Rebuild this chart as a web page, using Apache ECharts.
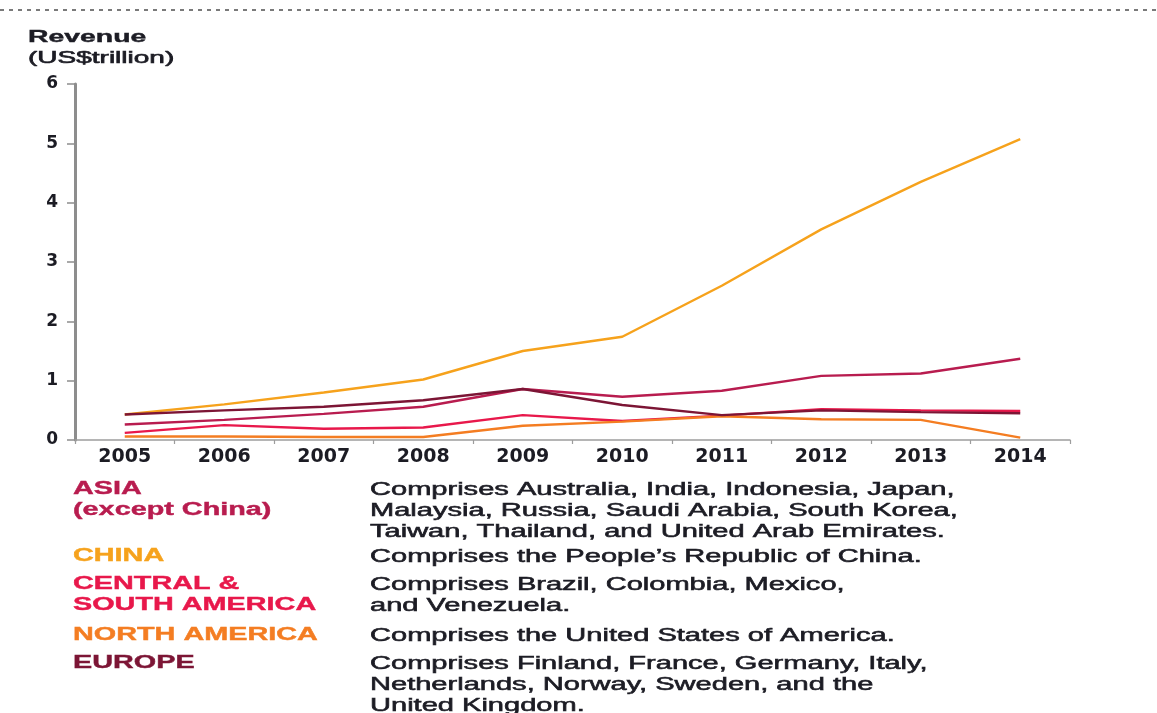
<!DOCTYPE html>
<html>
<head>
<meta charset="utf-8">
<title>Revenue by region, 2005–2014</title>
<script src="https://cdn.jsdelivr.net/npm/echarts@6/dist/echarts.min.js"></script>
<style>
  html, body { margin: 0; padding: 0; background: #ffffff; }
  #chart { width: 1157px; height: 713px; }
</style>
</head>
<body>
<div id="chart"></div>
<script>
// Years on the category axis
const years = ['2005', '2006', '2007', '2008', '2009', '2010', '2011', '2012', '2013', '2014'];

// Revenue, US$ trillion
const asia = [0.26, 0.34, 0.44, 0.56, 0.86, 0.73, 0.83, 1.08, 1.12, 1.37];
const china = [0.43, 0.60, 0.80, 1.02, 1.50, 1.74, 2.60, 3.55, 4.35, 5.07];
const centralSouthAmerica = [0.12, 0.25, 0.19, 0.21, 0.42, 0.32, 0.41, 0.52, 0.50, 0.49];
const northAmerica = [0.06, 0.06, 0.05, 0.05, 0.24, 0.31, 0.40, 0.35, 0.34, 0.04];
const europe = [0.43, 0.50, 0.56, 0.67, 0.86, 0.59, 0.42, 0.50, 0.47, 0.45];

// Region names and what each one covers
const regionNames = ['ASIA\n(except China)', 'CHINA', 'CENTRAL &\nSOUTH AMERICA', 'NORTH AMERICA', 'EUROPE'];
const regionNotes = [
  'Comprises Australia, India, Indonesia, Japan,\nMalaysia, Russia, Saudi Arabia, South Korea,\nTaiwan, Thailand, and United Arab Emirates.',
  'Comprises the People\u2019s Republic of China.',
  'Comprises Brazil, Colombia, Mexico,\nand Venezuela.',
  'Comprises the United States of America.',
  'Comprises Finland, France, Germany, Italy,\nNetherlands, Norway, Sweden, and the\nUnited Kingdom.'
];
const regionSeries = [asia, china, centralSouthAmerica, northAmerica, europe];

// Styling
const regionColors = ['#b81c4f', '#f6a21c', '#e8184b', '#f47d22', '#7c1535'];
const noteRowTops = [479, 546, 574, 625, 653];
const axisGrey = '#8d8d8d';
const ink = '#1c1c24';

const chart = echarts.init(document.getElementById('chart'), null, { renderer: 'canvas' });

// Key beneath the plot: coloured region name, then its description
const keyElements = [];
regionNames.forEach((name, i) => {
  keyElements.push({
    type: 'text',
    x: 73, y: noteRowTops[i],
    scaleX: 1.6,
    style: {
      text: name, fill: regionColors[i], stroke: regionColors[i], lineWidth: 0.4,
      fontFamily: 'Liberation Sans, Arial, sans-serif', fontWeight: 'bold', fontSize: 18,
      lineHeight: 21, verticalAlign: 'top', align: 'left'
    }
  });
  keyElements.push({
    type: 'text',
    x: 370, y: noteRowTops[i] + 1,
    scaleX: 1.66,
    style: {
      text: regionNotes[i], fill: ink, stroke: ink, lineWidth: 0.55,
      fontFamily: 'Liberation Sans, Arial, sans-serif', fontWeight: 'normal', fontSize: 17.5,
      lineHeight: 20.7, verticalAlign: 'top', align: 'left'
    }
  });
});

const option = {
  animation: false,
  backgroundColor: '#ffffff',
  grid: { left: 75, right: 87, top: 84, bottom: 273, containLabel: false },
  xAxis: {
    type: 'category',
    data: years,
    boundaryGap: true,
    axisLine: { show: true, lineStyle: { color: '#9d9d9d', width: 1.5 } },
    axisTick: { show: true, alignWithLabel: false, length: 4, lineStyle: { color: '#9d9d9d', width: 1.2 } },
    axisLabel: {
      interval: 0,
      margin: 8,
      color: ink,
      fontFamily: 'DejaVu Sans', fontWeight: 'bold', fontSize: 19
    },
    splitLine: { show: false }
  },
  yAxis: {
    type: 'value',
    min: 0, max: 6, interval: 1,
    axisLine: { show: true, lineStyle: { color: axisGrey, width: 3 } },
    axisTick: { show: true, length: 8, lineStyle: { color: axisGrey, width: 1.5 } },
    axisLabel: {
      margin: 17, color: ink,
      fontFamily: 'DejaVu Sans', fontWeight: 'bold', fontSize: 17
    },
    splitLine: { show: false }
  },
  series: regionNames.map((name, i) => ({
    name: name.replace('\n', ' '),
    type: 'line',
    data: regionSeries[i],
    symbol: 'none',
    smooth: false,
    lineStyle: { color: regionColors[i], width: 2.4 },
    itemStyle: { color: regionColors[i] },
    z: 2 + i
  })),
  graphic: [
    {
      type: 'line',
      shape: { x1: 0, y1: 10, x2: 1157, y2: 10 },
      style: { stroke: '#7a7a7a', lineWidth: 2, lineDash: [4, 5] }
    },
    {
      type: 'text', x: 28, y: 37, scaleX: 1.72,
      style: {
        text: 'Revenue', fill: ink, stroke: ink, lineWidth: 0.4,
        fontFamily: 'Liberation Sans, Arial, sans-serif', fontWeight: 'bold', fontSize: 16.5,
        verticalAlign: 'middle', align: 'left'
      }
    },
    {
      type: 'text', x: 28, y: 59, scaleX: 1.75,
      style: {
        text: '(US$trillion)', fill: ink, stroke: ink, lineWidth: 0.6,
        fontFamily: 'Liberation Sans, Arial, sans-serif', fontWeight: 'normal', fontSize: 16,
        verticalAlign: 'middle', align: 'left'
      }
    },
    { type: 'group', children: keyElements }
  ]
};

chart.setOption(option);
</script>
</body>
</html>
